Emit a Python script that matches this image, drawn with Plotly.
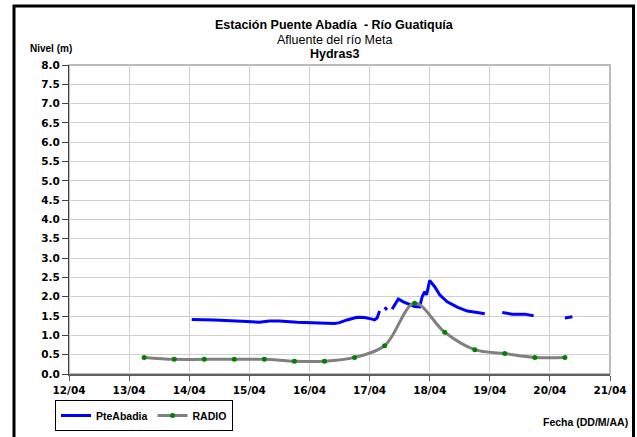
import plotly.graph_objects as go

# ---- data ----
PTE_TIMES = [
    "2011-04-14 01:00", "2011-04-14 10:00", "2011-04-14 23:00", "2011-04-15 04:00",
    "2011-04-15 08:00", "2011-04-15 12:00", "2011-04-15 19:00", "2011-04-16 01:00",
    "2011-04-16 10:00", "2011-04-16 12:00", "2011-04-16 15:00", "2011-04-16 19:00",
    "2011-04-16 22:00", "2011-04-17 01:00", "2011-04-17 02:00", "2011-04-17 03:00",
    "2011-04-17 04:00", "2011-04-17 05:00", "2011-04-17 06:00", "2011-04-17 07:00",
    "2011-04-17 08:00", "2011-04-17 09:00", "2011-04-17 11:30", "2011-04-17 13:30",
    "2011-04-17 16:00", "2011-04-17 18:00", "2011-04-17 20:00", "2011-04-17 21:00",
    "2011-04-17 22:00", "2011-04-17 22:45", "2011-04-18 00:00", "2011-04-18 02:00",
    "2011-04-18 04:00", "2011-04-18 07:00", "2011-04-18 11:00", "2011-04-18 15:00",
    "2011-04-18 19:00", "2011-04-18 22:00", "2011-04-19 01:00", "2011-04-19 05:00",
    "2011-04-19 09:00", "2011-04-19 14:00", "2011-04-19 17:30", "2011-04-20 00:00",
    "2011-04-20 06:00", "2011-04-20 09:00",
]
PTE_LEVELS = [
    1.41, 1.40, 1.36, 1.34,
    1.37, 1.37, 1.34, 1.33,
    1.31, 1.33, 1.40, 1.47,
    1.46, 1.42, 1.40, 1.45,
    1.63, None, 1.73, 1.66,
    None, 1.68, 1.94, 1.87,
    1.80, 1.75, 1.74, 2.00,
    2.13, 2.05, 2.42, 2.26,
    2.05, 1.87, 1.73, 1.63,
    1.59, 1.56, None, 1.59,
    1.55, 1.55, 1.51, None,
    1.45, 1.48,
]

RADIO_TIMES = [
    "2011-04-13 06:00", "2011-04-13 18:00", "2011-04-14 06:00", "2011-04-14 18:00",
    "2011-04-15 06:00", "2011-04-15 18:00", "2011-04-16 06:00", "2011-04-16 18:00",
    "2011-04-17 06:00", "2011-04-17 18:00", "2011-04-18 06:00", "2011-04-18 18:00",
    "2011-04-19 06:00", "2011-04-19 18:00", "2011-04-20 06:00",
]
RADIO_LEVELS = [0.43, 0.38, 0.38, 0.38, 0.38, 0.33, 0.33, 0.43,
                0.73, 1.83, 1.08, 0.63, 0.53, 0.43, 0.43]

Y_TICKS = [i * 0.5 for i in range(17)]
X_RANGE = ["2011-04-12", "2011-04-21"]

FONT = "Liberation Sans, Arial, sans-serif"
TICKFONT = "DejaVu Sans, Verdana, sans-serif"

# plot-area geometry in pixels (used only for placing text and frames)
W, H = 637, 437
L, R, T, B = 69, 27, 65, 63
PW, PH = W - L - R, H - T - B


def px(x):
    return (x - L) / PW


def py(y):
    return (H - B - y) / PH


fig = go.Figure()
fig.add_trace(go.Scatter(
    x=PTE_TIMES, y=PTE_LEVELS, name="PteAbadia", mode="lines",
    line=dict(color="#0000ff", width=3), connectgaps=False,
))
fig.add_trace(go.Scatter(
    x=RADIO_TIMES, y=RADIO_LEVELS, name="RADIO", mode="lines+markers",
    line=dict(color="#808080", width=3, shape="spline", smoothing=1.0),
    marker=dict(color="#008000", size=5),
))

fig.update_layout(
    width=W, height=H,
    margin=dict(l=L, r=R, t=T, b=B, autoexpand=False),
    paper_bgcolor="white", plot_bgcolor="white",
    font=dict(family=FONT, color="black"),
    showlegend=True,
    legend=dict(
        orientation="h", x=px(55), y=py(400), xanchor="left", yanchor="top",
        bordercolor="black", borderwidth=1, bgcolor="white",
        font=dict(size=10.5, weight="bold", family=FONT),
        itemwidth=30, tracegroupgap=0,
    ),
)

fig.update_xaxes(
    type="date", range=X_RANGE, dtick=86400000, tick0="2011-04-12",
    tickformat="%d/%m", showgrid=True, gridcolor="#d0d0d0", gridwidth=1,
    showline=True, linecolor="#606060", linewidth=2,
    ticks="outside", ticklen=5, tickcolor="#606060",
    tickfont=dict(size=10.5, weight="bold", family=TICKFONT),
    zeroline=False,
)
fig.update_yaxes(
    range=[0, 8], tickvals=Y_TICKS, tickformat=".1f",
    showgrid=True, gridcolor="#d0d0d0", gridwidth=1,
    showline=True, linecolor="#404040", linewidth=1,
    ticks="outside", ticklen=6, tickcolor="#404040",
    tickfont=dict(size=10.5, weight="bold", family=TICKFONT),
    zeroline=False,
)

# plot area border (top/right lighter)
fig.add_shape(type="rect", xref="paper", yref="paper", x0=0, x1=1, y0=0, y1=1,
              line=dict(color="#a6a6a6", width=1.5), layer="below")
# outer chart border
fig.add_shape(type="rect", xref="paper", yref="paper",
              x0=px(14), x1=px(633.5), y0=py(445), y1=py(6),
              line=dict(color="black", width=3))

CX = px(334)
fig.add_annotation(text="<b>Estación Puente Abadía  - Río Guatiquía</b>", xref="paper", yref="paper",
                   x=CX, y=py(24.5), xanchor="center", yanchor="middle", showarrow=False,
                   font=dict(size=12.5, family=FONT))
fig.add_annotation(text="Afluente del río Meta", xref="paper", yref="paper",
                   x=CX, y=py(40), xanchor="center", yanchor="middle", showarrow=False,
                   font=dict(size=12.5, family=FONT))
fig.add_annotation(text="<b>Hydras3</b>", xref="paper", yref="paper",
                   x=CX, y=py(54), xanchor="center", yanchor="middle", showarrow=False,
                   font=dict(size=12.5, family=FONT))
fig.add_annotation(text="<b>Nivel (m)</b>", xref="paper", yref="paper",
                   x=px(28), y=py(49), xanchor="left", yanchor="middle",
                   showarrow=False, font=dict(size=10, family=FONT))
fig.add_annotation(text="<b>Fecha (DD/M/AA)</b>", xref="paper", yref="paper",
                   x=px(630), y=py(422), xanchor="right", yanchor="middle",
                   showarrow=False, font=dict(size=10.5, family=FONT))

fig.write_html("out.html", config={"displayModeBar": False},
               post_script="document.body.style.margin='0';")
